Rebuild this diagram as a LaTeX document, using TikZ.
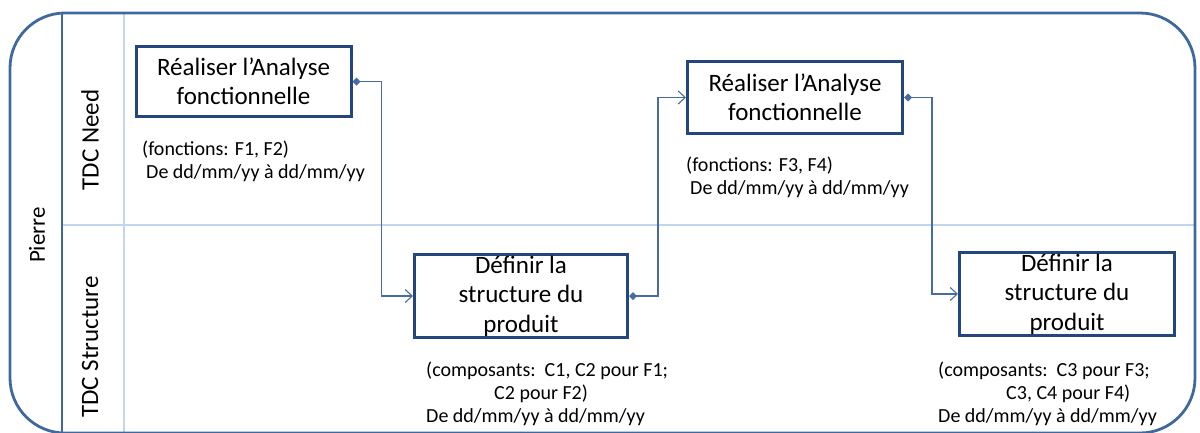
\documentclass[tikz,border=0pt]{standalone}
\usepackage{fontspec}
\setmainfont{Carlito}
\usetikzlibrary{arrows.meta}
\definecolor{frameblue}{RGB}{62,104,158}
\definecolor{boxblue}{RGB}{36,70,124}
\definecolor{flowblue}{RGB}{72,108,160}
\definecolor{laneline}{RGB}{194,214,238}

\begin{document}
\begin{tikzpicture}[x=1pt, y=-1pt,
  act/.style={draw=boxblue, line width=3pt, minimum width=215pt, inner sep=0pt, align=center, font=\fontsize{25}{29.5}\selectfont},
  note/.style={anchor=north west, align=left, inner sep=0pt, font=\fontsize{20}{23}\selectfont},
  flow/.style={draw=flowblue, line width=1.1pt, {Diamond[length=8pt,width=8pt]}-{Straight Barb[length=7pt,width=13pt]}},
  lane/.style={rotate=90, font=\fontsize{25}{28}\selectfont}
]
\useasboundingbox (0,0) rectangle (1200,432);

% pool and lanes
\draw[laneline, line width=2pt] (124,13) -- (124,433);
\draw[laneline, line width=2pt] (62,225) -- (1194,225);
\draw[frameblue, line width=2pt] (62,13) -- (62,433);
\draw[frameblue, line width=2.8pt, rounded corners=55pt] (10,13) rectangle (1195,433);

\node[lane, font=\fontsize{23}{26}\selectfont] (pierre) at (37,235) {Pierre};
\node[lane] (need) at (90,140) {TDC Need};
\node[lane] (struct) at (90,347) {TDC Structure};

% activities
\node[act, minimum height=70pt] (ra1) at (243.5,81.5) {Réaliser l’Analyse\\fonctionnelle};
\node[act, minimum height=83pt, minimum width=213pt] (def1) at (521,296) {Définir la\\structure du\\produit};
\node[act, minimum height=72pt] (ra2) at (795,97.5) {Réaliser l’Analyse\\fonctionnelle};
\node[act, minimum height=83pt] (def2) at (1067,294) {Définir la\\structure du\\produit};

\node[note] (n1) at (142,141) {(fonctions: F1, F2)\\\hspace*{4pt}De dd/mm/yy à dd/mm/yy};
\node[note] (n2) at (686,157) {(fonctions: F3, F4)\\\hspace*{4pt}De dd/mm/yy à dd/mm/yy};
\node[note] (n3) at (426,362) {(composants:\ \ C1, C2 pour F1;\\\hspace*{68pt}C2 pour F2)\\De dd/mm/yy à dd/mm/yy};
\node[note] (n4) at (938,362) {(composants:\ \ C3 pour F3;\\\hspace*{68pt}C3, C4 pour F4)\\De dd/mm/yy à dd/mm/yy};

% sequence flows
\draw[flow] (ra1.east) -- ++(29,0) |- (def1.west);
\draw[flow] (def1.east) -- ++(29,0) |- (ra2.west);
\draw[flow] (ra2.east) -- ++(28,0) |- (def2.west);
\end{tikzpicture}
\end{document}
